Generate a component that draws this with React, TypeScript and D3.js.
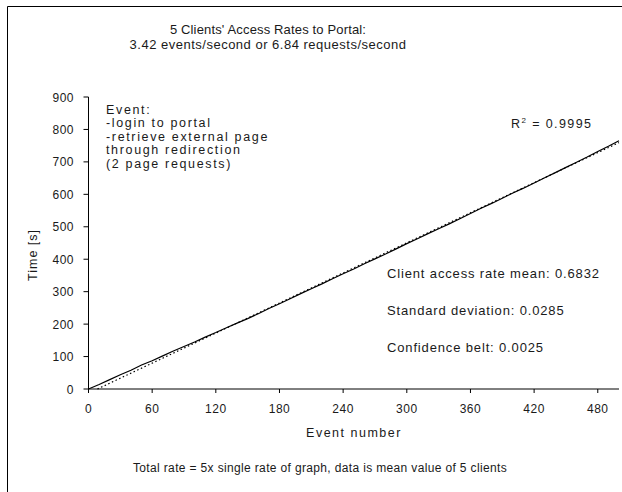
import React from "react";
import * as d3 from "d3";

// Event number (x) and mean elapsed time in seconds (y)
const eventNumbers = [
  0, 10, 20, 30, 40, 50, 60, 70, 80, 90, 100, 110, 120, 130, 140, 150, 160,
  170, 180, 190, 200, 210, 220, 230, 240, 250, 260, 270, 280, 290, 300, 310,
  320, 330, 340, 350, 360, 370, 380, 390, 400, 410, 420, 430, 440, 450, 460,
  470, 480, 490, 500,
];
const elapsedTimes = [
  0, 14, 29, 44, 58, 74, 87, 102, 117, 131, 145, 160, 174, 189, 203, 217, 232,
  248, 263, 278, 294, 309, 324, 340, 355, 370, 386, 401, 416, 432, 448, 463,
  479, 494, 509, 525, 541, 557, 572, 588, 604, 619, 635, 651, 667, 683, 699,
  715, 732, 748, 765,
];

// Linear trend line of the data
const trendSlope = 1.545;
const trendIntercept = -13;

const xTicks = [0, 60, 120, 180, 240, 300, 360, 420, 480];
const yTicks = [0, 100, 200, 300, 400, 500, 600, 700, 800, 900];

const titleLines = [
  "5 Clients' Access Rates to Portal:",
  "3.42 events/second or 6.84 requests/second",
];
const eventNotes = [
  "Event:",
  "-login to portal",
  "-retrieve external page",
  "through redirection",
  "(2 page requests)",
];
const statNotes = [
  "Client access rate mean: 0.6832",
  "Standard deviation: 0.0285",
  "Confidence belt: 0.0025",
];
const rSquared = "0.9995";
const xTitle = "Event number";
const yTitle = "Time [s]";
const footNote =
  "Total rate = 5x single rate of graph, data is mean value of 5 clients";

const W = 622;
const H = 492;
const FONT = "'Liberation Sans', Arial, Helvetica, sans-serif";
const INK = "#1a1a1a";

export default function App() {
  const x = d3.scaleLinear().domain([0, 500]).range([88.5, 619]);
  const y = d3.scaleLinear().domain([0, 900]).range([389, 97]);

  const points = eventNumbers.map((e, i) => [e, elapsedTimes[i]] as [number, number]);
  const dataLine = d3
    .line<[number, number]>()
    .x((d) => x(d[0]))
    .y((d) => y(d[1]))(points);

  const trendStart = -trendIntercept / trendSlope;
  const trendPts: [number, number][] = [
    [trendStart, 0],
    [500, trendSlope * 500 + trendIntercept],
  ];
  const trendLine = d3
    .line<[number, number]>()
    .x((d) => x(d[0]))
    .y((d) => y(d[1]))(trendPts);

  const x0 = x(0);
  const y0 = y(0);

  return (
    <svg
      width={W}
      height={H}
      viewBox={`0 0 ${W} ${H}`}
      style={{ position: "absolute", left: 0, top: 0, background: "#fff" }}
      fontFamily={FONT}
      fill={INK}
    >
      <rect x={0} y={0} width={W} height={H} fill="#fff" />
      {/* outer frame */}
      <path d={`M7.5,${H + 2} V6.5 H${W + 2}`} fill="none" stroke="#000" strokeWidth={1} />

      {/* title */}
      {titleLines.map((t, i) => (
        <text
          key={t}
          x={268}
          y={34 + i * 14.5}
          textAnchor="middle"
          fontSize={13}
          letterSpacing={i === 0 ? 0.15 : 0.5}
        >
          {t}
        </text>
      ))}

      {/* y axis */}
      <line x1={x0} x2={x0} y1={y(900)} y2={y0} stroke="#000" strokeWidth={1} />
      {yTicks.map((t) => (
        <g key={`y${t}`}>
          <line x1={x0 - 5} x2={x0} y1={y(t)} y2={y(t)} stroke="#000" strokeWidth={1} />
          <text x={74} y={y(t) + 4.5} textAnchor="end" fontSize={12} letterSpacing={0.5}>
            {t}
          </text>
        </g>
      ))}

      {/* x axis */}
      <line x1={x0} x2={x(500)} y1={y0} y2={y0} stroke="#000" strokeWidth={1} />
      {xTicks.map((t) => (
        <g key={`x${t}`}>
          <line x1={x(t)} x2={x(t)} y1={y0} y2={y0 + 4} stroke="#000" strokeWidth={1} />
          <text x={x(t)} y={413} textAnchor="middle" fontSize={12} letterSpacing={0.5}>
            {t}
          </text>
        </g>
      ))}

      <text x={354} y={437} textAnchor="middle" fontSize={12.5} letterSpacing={1.5}>
        {xTitle}
      </text>
      <text
        transform="translate(37,255) rotate(-90)"
        textAnchor="middle"
        fontSize={12.5}
        letterSpacing={1}
      >
        {yTitle}
      </text>

      {/* trend line and data */}
      <path d={trendLine ?? ""} fill="none" stroke="#000" strokeWidth={1.2} strokeDasharray="1.5 2.5" />
      <path d={dataLine ?? ""} fill="none" stroke="#000" strokeWidth={1.2} />

      {/* annotations */}
      {eventNotes.map((t, i) => (
        <text key={t} x={106} y={113.5 + i * 13.5} fontSize={12.5} letterSpacing={1.65}>
          {t}
        </text>
      ))}
      <text x={511} y={128} fontSize={12.5} letterSpacing={1.4}>
        R<tspan dy={-5} fontSize={8}>2</tspan>
        <tspan dy={5}>{` =  ${rSquared}`}</tspan>
      </text>
      {statNotes.map((t, i) => (
        <text key={t} x={387} y={278 + i * 36.8} fontSize={13} letterSpacing={0.85}>
          {t}
        </text>
      ))}

      <text x={320} y={472} textAnchor="middle" fontSize={12} letterSpacing={0.35}>
        {footNote}
      </text>
    </svg>
  );
}
